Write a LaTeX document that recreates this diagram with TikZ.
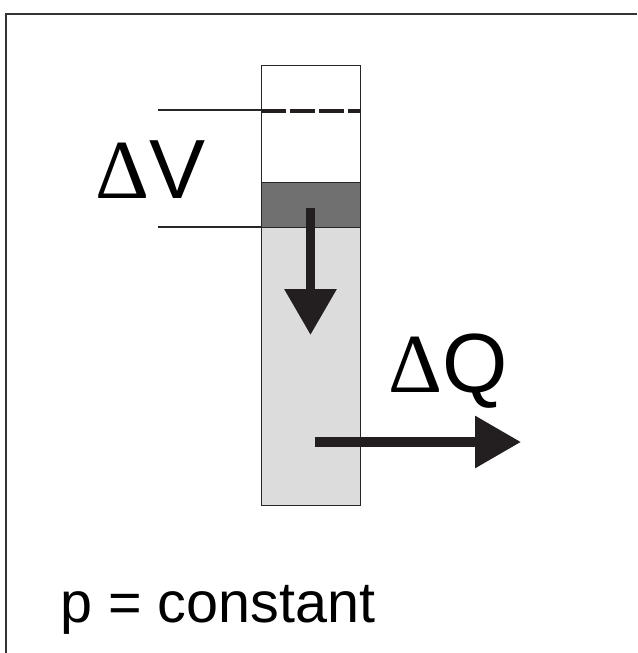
\documentclass[tikz,border=0pt]{standalone}
\usepackage{fontspec}
\setmainfont{Liberation Sans}
\newfontfamily\deltafont{Liberation Serif}
\usetikzlibrary{positioning}
\usetikzlibrary{calc}
\usetikzlibrary{arrows.meta}

\definecolor{pistongray}{HTML}{707070}
\definecolor{fluidgray}{HTML}{DCDCDC}
\definecolor{arrowblack}{HTML}{231F20}
\definecolor{framegray}{HTML}{333333}

\tikzset{
  wall/.style={draw=black!85, line width=0.9pt},
  ticks/.style={draw=black!85, line width=1.2pt},
  bigarrow/.style={arrowblack, line width=9.5pt, -{Triangle[length=46pt,width=50pt]}},
  biglabel/.style={inner sep=0pt, anchor=base west, font=\fontsize{84}{100}\selectfont},
}

\begin{document}
\begin{tikzpicture}[x=1pt, y=-1pt]
    \useasboundingbox (0,0) rectangle (637,653);
    \draw[framegray, line width=1.4pt] (6,653) -- (6,14) -- (637,14);

    % tube, piston and fluid
    \node[wall, minimum width=99pt, minimum height=440pt, inner sep=0pt, anchor=north west] (tube) at (261,65) {};
    \node[fill=fluidgray, minimum width=99pt, minimum height=278pt, inner sep=0pt, anchor=south] (fluid) at (tube.south) {};
    \node[fill=pistongray, minimum width=99pt, minimum height=45pt, inner sep=0pt, above=0pt of fluid] (piston) {};
    \draw[wall] (tube.north west) rectangle (tube.south east);
    \draw[wall] (piston.north west) -- (piston.north east);
    \draw[wall] (piston.south west) -- (piston.south east);

    % old piston level
    \coordinate (old) at ($(tube.north west)+(0,46)$);
    \draw[arrowblack, line width=4pt, dash pattern=on 25pt off 4pt] (old) -- (old -| tube.east);

    % volume change marks
    \coordinate (mark1) at (158,110);
    \coordinate (mark2) at (158,227);
    \draw[ticks] (mark1) -- (mark1 -| tube.west);
    \draw[ticks] (mark2) -- (mark2 -| tube.west);
    \node[biglabel] (dv) at (95,198) {{\deltafont Δ}V};

    % piston moves down, heat flows out
    \coordinate (push) at (310.5,208);
    \coordinate (pushend) at (310.5,335);
    \draw[bigarrow] (push) -- (pushend);
    \coordinate (heat) at (315,442);
    \coordinate (heatend) at (521,442);
    \draw[bigarrow] (heat) -- (heatend);
    \node[biglabel] (dq) at (388,392) {{\deltafont Δ}Q};

    \node[inner sep=0pt, anchor=base west, font=\fontsize{57.5}{70}\selectfont] (pconst) at (60,622) {p = constant};
\end{tikzpicture}
\end{document}
